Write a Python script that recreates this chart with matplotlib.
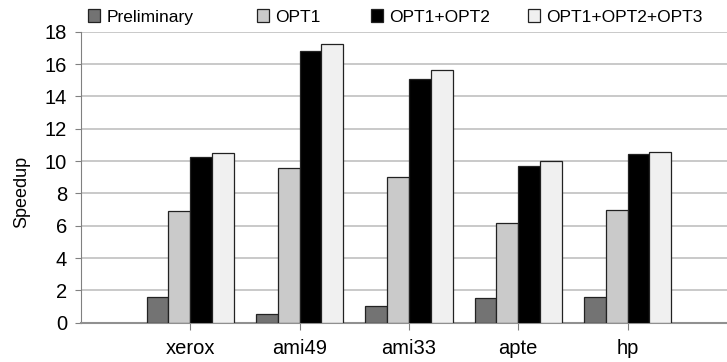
import matplotlib
matplotlib.use("Agg")
import matplotlib.pyplot as plt
import numpy as np

plt.rcParams['font.family'] = ['Liberation Sans', 'DejaVu Sans']

categories = ["xerox", "ami49", "ami33", "apte", "hp"]
series_names = ["Preliminary", "OPT1", "OPT1+OPT2", "OPT1+OPT2+OPT3"]
preliminary = [1.57, 0.54, 1.03, 1.51, 1.61]
opt1 = [6.93, 9.60, 8.99, 6.15, 6.95]
opt12 = [10.23, 16.80, 15.07, 9.71, 10.41]
opt123 = [10.49, 17.24, 15.63, 9.98, 10.54]
yticks = [0, 2, 4, 6, 8, 10, 12, 14, 16, 18]

colors = ["#737373", "#cacaca", "#000000", "#f0f0f0"]
series = [preliminary, opt1, opt12, opt123]

W, H = 727, 362
fig = plt.figure(figsize=(W/100, H/100), dpi=100)
ax = fig.add_axes([81/W, (H-322.7)/H, 1-81/W, (322.7-31.7)/H])

x = np.arange(1, len(categories)+1)
w = 0.2
bars = []
for i, (vals, c, name) in enumerate(zip(series, colors, series_names)):
    b = ax.bar(x + (i-1.5)*w, vals, width=w, color=c, edgecolor="#222222",
               linewidth=0.9, label=name, zorder=3)
    bars.append(b)

ax.set_xlim(0, 5.91)
ax.set_ylim(0, 18)
ax.set_yticks(yticks)
ax.set_xticks(x)
ax.set_xticklabels(categories, fontsize=14.5)
ax.tick_params(axis='y', labelsize=14.5, length=4, color="#808080", pad=6)
ax.tick_params(axis='x', length=5, color="#808080", pad=7)
ax.yaxis.grid(True, color="#c0c0c0", linewidth=1.2, zorder=0)
ax.set_axisbelow(True)
for s in ["top", "right"]:
    ax.spines[s].set_visible(False)
ax.spines["left"].set_color("#808080")
ax.spines["bottom"].set_color("#909090")
ax.spines["bottom"].set_linewidth(1.5)
ax.set_ylabel("Speedup", fontsize=13)
ax.yaxis.set_label_coords((30-81)/646, 0.45)

legend_x = [88, 257, 371, 528]
for b, name, lx in zip(bars, series_names, legend_x):
    lg = fig.legend([b], [name], loc="center left",
                    bbox_to_anchor=(lx/W, 1-17/H), bbox_transform=fig.transFigure,
                    frameon=False, fontsize=12.5, handlelength=0.7, handleheight=0.7,
                    handletextpad=0.35, borderaxespad=0, borderpad=0)

fig.savefig("out.png", dpi=100)
